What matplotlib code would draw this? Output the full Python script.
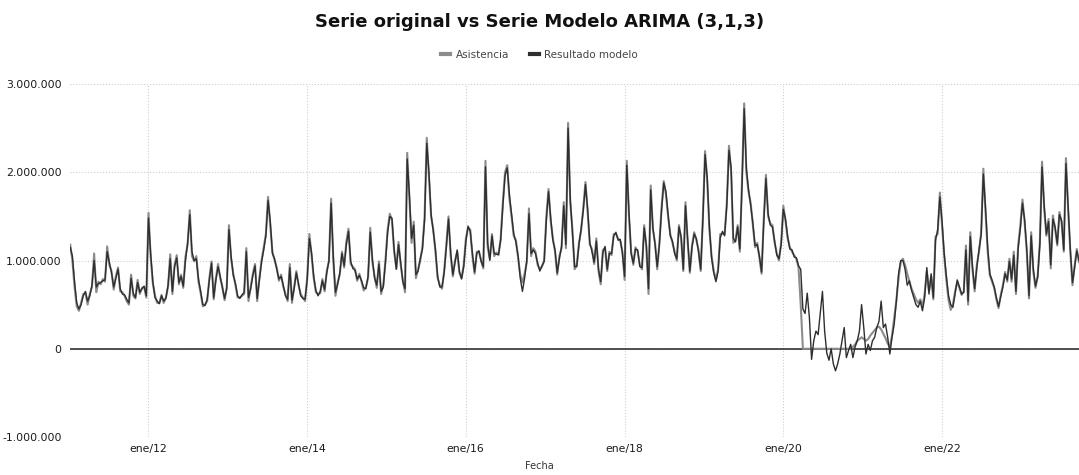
import matplotlib
matplotlib.use('Agg')
import matplotlib.pyplot as plt
import matplotlib.ticker as mticker
import pandas as pd


# values in thousands, one point every 10 days starting 2011-01-08
fecha_inicio = '2011-01-08'
paso = '10D'

asistencia = [
    1180, 1000, 700, 480, 430, 520, 620, 630, 500, 620,
    700, 1080, 640, 760, 730, 790, 760, 1160, 950, 880,
    670, 820, 920, 650, 640, 600, 540, 500, 840, 600,
    570, 780, 620, 690, 700, 580, 1540, 1040, 740, 600,
    520, 520, 610, 520, 580, 700, 1070, 620, 950, 1060,
    730, 840, 690, 1040, 1180, 1570, 1050, 990, 1050, 760,
    630, 480, 500, 540, 800, 990,
    560, 800, 960, 800, 700, 550, 700, 1400, 1020, 850,
    720, 580, 580, 600, 620, 1140, 540, 700, 850, 960,
    540, 800, 1000, 1150, 1300, 1720, 1400, 1100, 1000, 920,
    770, 840, 700, 620, 540, 960, 520, 700, 880, 720,
    620, 580, 540, 800, 1300, 1060, 800, 640, 620, 630,
    790, 650, 880, 990, 1700, 1000, 600, 750, 840, 1100,
    920, 1210, 1360, 960, 930, 900, 770,
    850, 760, 660, 700, 800, 1370, 980, 820, 690, 990,
    620, 720, 1000, 1350, 1530, 1450, 1100, 910, 1210, 950,
    770, 640, 2220, 1700, 1200, 1440, 800, 900, 1000, 1150,
    1500, 2390, 1950, 1500, 1350, 1100, 800, 720, 680, 880,
    1180, 1500, 1050, 820, 1000, 1100, 860, 800, 950, 1250,
    1370, 1350, 1050, 850, 1100, 1100, 1000, 910, 2130, 1150,
    1020, 1300, 1050, 1090, 1060, 1250, 1660, 2000, 2080, 1700,
    1500,
    1280, 1230, 1030, 840, 750, 850, 980, 1590, 1050, 1140,
    1100, 950, 900, 930, 1000, 1500, 1810, 1450, 1250, 1100,
    840, 1050, 1140, 1660, 1140, 2560, 1650, 1350, 900, 950,
    1200, 1340, 1600, 1890, 1550, 1180, 1130, 960, 1250, 880,
    730, 1120, 1140, 880, 1100, 1060, 1300, 1300, 1250, 1220,
    1100, 780, 2130, 1500, 1100, 950, 1150, 1100, 950, 900,
    1400, 1150, 620,
    1850, 1350, 1200, 900, 1200, 1600, 1900, 1750, 1500, 1300,
    1200, 1100, 1000, 1400, 1250, 880, 1660, 1210, 860, 1170,
    1320, 1230, 1120, 880, 1500, 2240, 1900, 1350, 1050, 880,
    780, 900, 1300, 1300, 1300, 1650, 2300, 2000, 1200, 1230,
    1400, 1100, 1900, 2780, 2000, 1780, 1650, 1400, 1150, 1200,
    1030, 850, 1470, 1970, 1500, 1420, 1400, 1200, 1080, 1000,
    1200, 1620, 1450, 1250, 1150, 1100, 1060, 1020, 920, 500,
    0, 0, 0, 0, 0, 0, 0, 0, 0, 0,
    0, 0, 0, 0, 0, 0, 0, 0, 0, 0,
    0, 0, 0,
    20, 50, 90, 110, 130, 110, 90, 110, 150, 180,
    210, 240, 250, 220, 170, 120, 60, 20, 150, 350,
    550, 800, 980, 1020, 950, 850, 760, 680, 620, 560,
    520, 560, 480, 620, 880, 650, 820, 560,
    1270, 1300, 1770, 1400, 1050, 780, 550, 440, 500, 650,
    760, 690, 610, 650, 1170, 500, 1320, 900, 650, 950,
    1100, 1320, 2040, 1550, 1100, 830, 760, 690, 560, 460,
    610, 720, 870, 760, 1020, 760, 1100, 620, 1170, 1390,
    1690, 1430, 1100, 570, 1320, 870, 690, 830, 1210, 2120,
    1580, 1280, 1470, 910, 1510, 1360, 1170, 1550, 1430, 1100,
    2160, 1580, 1100, 720, 950, 1130, 980,
]

resultado_modelo = [
    1150, 1050, 760, 520, 450, 500, 600, 650, 540, 600,
    720, 1000, 700, 740, 750, 770, 780, 1100, 980, 860,
    700, 800, 900, 680, 620, 610, 560, 520, 800, 630,
    580, 750, 640, 680, 710, 600, 1480, 1080, 760, 580,
    540, 510, 600, 540, 570, 720, 1020, 650, 930, 1030,
    750, 820, 710, 1000, 1200, 1520, 1100, 1000, 1020, 790,
    650, 500, 490, 560, 780, 970,
    580, 780, 930, 820, 690, 570, 680, 1350, 1050, 830,
    740, 600, 570, 610, 640, 1100, 580, 680, 830, 940,
    570, 780, 980, 1120, 1280, 1680, 1450, 1080, 1020, 900,
    790, 820, 720, 600, 560, 920, 550, 680, 860, 740,
    600, 570, 560, 780, 1250, 1090, 820, 660, 600, 650,
    770, 670, 860, 1000, 1650, 1050, 640, 730, 860, 1080,
    940, 1180, 1330, 990, 910, 890, 790,
    830, 770, 690, 680, 820, 1320, 1010, 800, 720, 960,
    650, 700, 980, 1320, 1500, 1480, 1120, 900, 1180, 980,
    760, 680, 2150, 1750, 1250, 1400, 840, 880, 1020, 1130,
    1460, 2330, 2000, 1520, 1330, 1120, 820, 700, 700, 860,
    1150, 1470, 1090, 840, 980, 1120, 880, 790, 930, 1220,
    1390, 1330, 1080, 870, 1080, 1110, 990, 930, 2060, 1200,
    1000, 1280, 1080, 1070, 1070, 1230, 1620, 1960, 2050, 1750,
    1520,
    1300, 1210, 1050, 800, 650, 800, 1000, 1530, 1080, 1120,
    1080, 970, 880, 940, 990, 1460, 1780, 1480, 1230, 1120,
    860, 1020, 1160, 1620, 1180, 2500, 1700, 1320, 930, 930,
    1180, 1360, 1570, 1860, 1580, 1200, 1100, 980, 1220, 900,
    760, 1090, 1160, 900, 1080, 1080, 1280, 1320, 1230, 1240,
    1080, 820, 2080, 1550, 1080, 970, 1130, 1120, 930, 920,
    1370, 1170, 680,
    1800, 1380, 1180, 930, 1180, 1570, 1880, 1780, 1520, 1280,
    1220, 1080, 1020, 1380, 1270, 900, 1620, 1240, 880, 1150,
    1300, 1250, 1100, 900, 1460, 2200, 1940, 1380, 1030, 860,
    760, 880, 1260, 1330, 1280, 1620, 2250, 2050, 1250, 1210,
    1380, 1130, 1850, 2720, 2050, 1800, 1620, 1420, 1170, 1180,
    1050, 870, 1430, 1930, 1530, 1400, 1380, 1220, 1060, 1020,
    1180, 1580, 1470, 1270, 1130, 1120, 1040, 1030, 940, 900,
    450, 400, 630, 350, -120, 90, 200, 160, 400, 650,
    200, -50, -130, 0, -170, -250, -170, -60, 90, 240,
    -100, -20, 50, -100, 20, 90, 200, 500, 240, -60,
    50, -20, 90, 130, 240, 310, 540, 240, 280, 130,
    -60, 130, 280, 540, 850, 1000, 1000, 900, 720, 770,
    660, 580, 500, 470, 540, 430, 580, 920, 620, 850,
    580,
    1230, 1350, 1720, 1450, 1080, 820, 600, 500, 470, 620,
    780, 700, 620, 640, 1120, 540, 1270, 930, 680, 920,
    1120, 1290, 1980, 1600, 1150, 850, 780, 700, 580, 480,
    590, 700, 850, 780, 990, 790, 1060, 650, 1130, 1360,
    1650, 1460, 1120, 600, 1280, 900, 710, 810, 1180, 2060,
    1620, 1300, 1440, 950, 1470, 1380, 1190, 1520, 1450, 1120,
    2100, 1620, 1130, 750, 920, 1110, 1000,
]

anios_ticks = [2012, 2014, 2016, 2018, 2020, 2022]
etiquetas_x = ['ene/12', 'ene/14', 'ene/16', 'ene/18', 'ene/20', 'ene/22']
valores_y = [-1000000, 0, 1000000, 2000000, 3000000]

fechas_a = pd.date_range(fecha_inicio, periods=len(asistencia), freq=paso)
fechas_m = pd.date_range(fecha_inicio, periods=len(resultado_modelo), freq=paso)
serie_a = pd.Series(asistencia, index=fechas_a) * 1000
serie_m = pd.Series(resultado_modelo, index=fechas_m) * 1000

fig = plt.figure(figsize=(10.79, 4.75), dpi=100)
ax = fig.add_axes([70 / 1079, 1 - 437 / 475, 1 - 70 / 1079, (437 - 84) / 475])

ax.plot(serie_a.index, serie_a.values, color='#8c8c8c', lw=1.5, label='Asistencia')
ax.plot(serie_m.index, serie_m.values, color='#2e2e2e', lw=1.0, label='Resultado modelo')
ax.axhline(0, color='#222222', lw=1.1, zorder=1)

ax.set_ylim(-1000000, 3000000)
ax.set_xlim(fechas_a[0] - pd.Timedelta(days=1), fechas_a[-1])
ax.set_yticks(valores_y)
ax.yaxis.set_major_formatter(mticker.FuncFormatter(lambda v, p: '{:,.0f}'.format(v).replace(',', '.')))
ax.set_xticks([pd.Timestamp(year=a, month=1, day=1) for a in anios_ticks])
ax.set_xticklabels(etiquetas_x)
ax.tick_params(axis='both', length=0, labelsize=7.8, colors='#1a1a1a')
ax.tick_params(axis='y', pad=6)
ax.tick_params(axis='x', pad=5)
ax.grid(True, color='#cfcfcf', lw=0.8, ls=':')
ax.set_axisbelow(True)
for s in ax.spines.values():
    s.set_visible(False)

fig.text(0.5, 1 - 22 / 475, 'Serie original vs Serie Modelo ARIMA (3,1,3)',
         ha='center', va='center', fontsize=13, fontweight='bold', color='#111111')
leg = fig.legend(loc='center', bbox_to_anchor=(0.5, 1 - 55 / 475), ncol=2, frameon=False,
                 fontsize=7.5, handlelength=0.9, handletextpad=0.5, columnspacing=2.0,
                 labelcolor='#444444')
for h in leg.get_lines():
    h.set_linewidth(3)
fig.text(0.5, 1 - 466 / 475, 'Fecha', ha='center', va='center', fontsize=7, color='#333333')

fig.savefig('out.png', dpi=100)
